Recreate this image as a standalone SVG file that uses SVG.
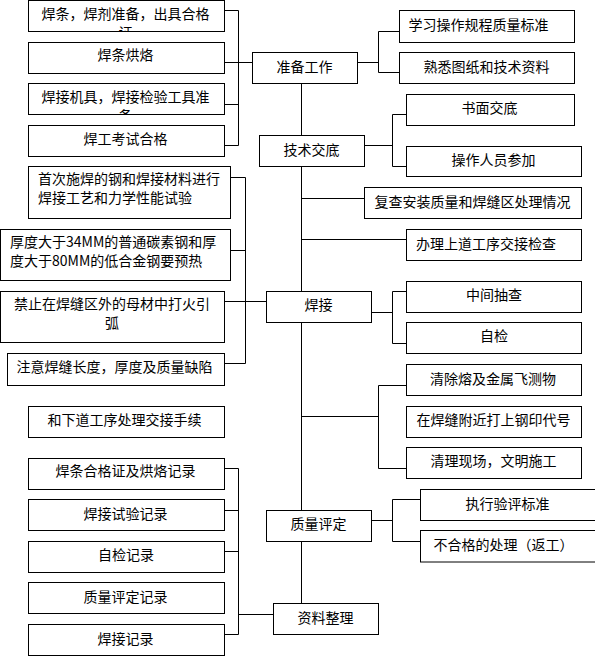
<svg xmlns="http://www.w3.org/2000/svg" width="595" height="656" viewBox="0 0 595 656">
<style>
rect{fill:#fff;stroke:#000;stroke-width:1}
text{font-family:"Noto Sans CJK SC","Liberation Sans",sans-serif;font-size:14px;fill:#000}
.c{text-anchor:middle}
#connectors path{fill:none;stroke:#000;stroke-width:1}
</style>
<defs>
<clipPath id="clip1"><rect x="29" y="1" width="195" height="30"/></clipPath>
<clipPath id="clip3"><rect x="29" y="84" width="195" height="30"/></clipPath>
</defs>
<g id="connectors">
<path d="M224.5 10.5H238.5V145.5H224.5M224.5 62.5H252.5M224.5 104.5H238.5"/>
<path d="M357.5 62.5H378.5M399.5 31.5H378.5V72.5H399.5"/>
<path d="M301.5 83.5V135.5M301.5 166.5V291.5M301.5 198.5H364.5M301.5 239.5H406.5"/>
<path d="M364.5 145.5H392.5M406.5 114.5H392.5V166.5H406.5"/>
<path d="M371.5 312.5H392.5M406.5 291.5H392.5V343.5H406.5"/>
<path d="M224.5 301.5H266.5M230.5 177.5H245.5V363.5H224.5M230.5 250.5H245.5"/>
<path d="M301.5 322.5V510.5M301.5 416.5H378.5M406.5 385.5H378.5V468.5H406.5"/>
<path d="M371.5 520.5H392.5M420.5 499.5H392.5V541.5H420.5"/>
<path d="M301.5 541.5V603.5"/>
<path d="M224.5 468.5H238.5V634.5H224.5M224.5 510.5H238.5M224.5 551.5H238.5M238.5 614.5H273.5"/>
</g>
<g id="n1"><rect x="28.5" y="0.5" width="196" height="31"/><g clip-path="url(#clip1)"><text class="c" x="125.5" y="19">焊条，焊剂准备，出具合格</text><text class="c" x="125.5" y="38">证</text></g></g>
<g id="n2"><rect x="28.5" y="42.5" width="196" height="31"/><text class="c" x="125.5" y="59.5">焊条烘烙</text></g>
<g id="n3"><rect x="28.5" y="83.5" width="196" height="31"/><g clip-path="url(#clip3)"><text class="c" x="125.5" y="102">焊接机具，焊接检验工具准</text><text class="c" x="125.5" y="121">备</text></g></g>
<g id="n4"><rect x="28.5" y="125.5" width="196" height="31"/><text class="c" x="125.5" y="144">焊工考试合格</text></g>
<g id="zbgz"><rect x="252.5" y="52.5" width="105" height="31"/><text class="c" x="304.5" y="72">准备工作</text></g>
<g id="xxcz"><rect x="399.5" y="10.5" width="175" height="32"/><text x="408.5" y="30">学习操作规程质量标准</text></g>
<g id="sxtz"><rect x="399.5" y="52.5" width="175" height="31"/><text class="c" x="486.5" y="72">熟悉图纸和技术资料</text></g>
<g id="jsjd"><rect x="259.5" y="135.5" width="105" height="31"/><text class="c" x="311.5" y="155">技术交底</text></g>
<g id="smjd"><rect x="406.5" y="94.5" width="168" height="31"/><text class="c" x="489.5" y="112.5">书面交底</text></g>
<g id="czry"><rect x="406.5" y="146.5" width="175" height="30"/><text class="c" x="493.5" y="165">操作人员参加</text></g>
<g id="fcaz"><rect x="364.5" y="187.5" width="217" height="31"/><text class="c" x="472.5" y="206.5">复查安装质量和焊缝区处理情况</text></g>
<g id="blsd"><rect x="406.5" y="229.5" width="175" height="31"/><text x="416" y="248.5">办理上道工序交接检查</text></g>
<g id="hj"><rect x="266.5" y="291.5" width="105" height="31"/><text class="c" x="318.5" y="309.5">焊接</text></g>
<g id="zjcc"><rect x="406.5" y="281.5" width="175" height="31"/><text class="c" x="494" y="300">中间抽查</text></g>
<g id="zj"><rect x="406.5" y="322.5" width="175" height="31"/><text class="c" x="494" y="340.5">自检</text></g>
<g id="nA"><rect x="28.5" y="166.5" width="202" height="52"/><text x="38" y="183.5">首次施焊的钢和焊接材料进行</text><text x="38" y="202.5">焊接工艺和力学性能试验</text></g>
<g id="nB"><rect x="0.5" y="229.5" width="230" height="51"/><text x="10" y="246.5">厚度大于34MM的普通碳素钢和厚</text><text x="10" y="265.5">度大于80MM的低合金钢要预热</text></g>
<g id="nC"><rect x="0.5" y="291.5" width="224" height="51"/><text class="c" x="112" y="309">禁止在焊缝区外的母材中打火引</text><text class="c" x="112" y="328">弧</text></g>
<g id="nD"><rect x="7.5" y="353.5" width="217" height="32"/><text class="c" x="114.5" y="372">注意焊缝长度，厚度及质量缺陷</text></g>
<g id="qc1"><rect x="406.5" y="364.5" width="175" height="31"/><text class="c" x="493" y="383.5">清除熔及金属飞测物</text></g>
<g id="qc2"><rect x="406.5" y="406.5" width="175" height="31"/><text class="c" x="493.5" y="424.5">在焊缝附近打上钢印代号</text></g>
<g id="qc3"><rect x="406.5" y="447.5" width="175" height="31"/><text class="c" x="493.5" y="466">清理现场，文明施工</text></g>
<g id="hxd"><rect x="28.5" y="406.5" width="196" height="31"/><text class="c" x="124.5" y="425">和下道工序处理交接手续</text></g>
<g id="zlpd"><rect x="266.5" y="510.5" width="105" height="31"/><text class="c" x="318.5" y="528.5">质量评定</text></g>
<g id="zxyp"><rect x="420.5" y="489.5" width="180" height="31"/><text class="c" x="507.5" y="508.5">执行验评标准</text></g>
<g id="bhg"><rect x="420.5" y="530.5" width="180" height="31.5"/><text class="c" x="503.5" y="549.5">不合格的处理（返工）</text></g>
<g id="r1"><rect x="28.5" y="458.5" width="196" height="31"/><text class="c" x="125.5" y="476">焊条合格证及烘烙记录</text></g>
<g id="r2"><rect x="28.5" y="499.5" width="196" height="31"/><text class="c" x="125.5" y="518.5">焊接试验记录</text></g>
<g id="r3"><rect x="28.5" y="541.5" width="196" height="31"/><text class="c" x="126" y="560">自检记录</text></g>
<g id="r4"><rect x="28.5" y="582.5" width="196" height="31"/><text class="c" x="125.5" y="601.5">质量评定记录</text></g>
<g id="r5"><rect x="28.5" y="624.5" width="196" height="31"/><text class="c" x="125.5" y="643.5">焊接记录</text></g>
<g id="zlzl"><rect x="273.5" y="603.5" width="105" height="31"/><text class="c" x="325.5" y="622.5">资料整理</text></g>
</svg>
